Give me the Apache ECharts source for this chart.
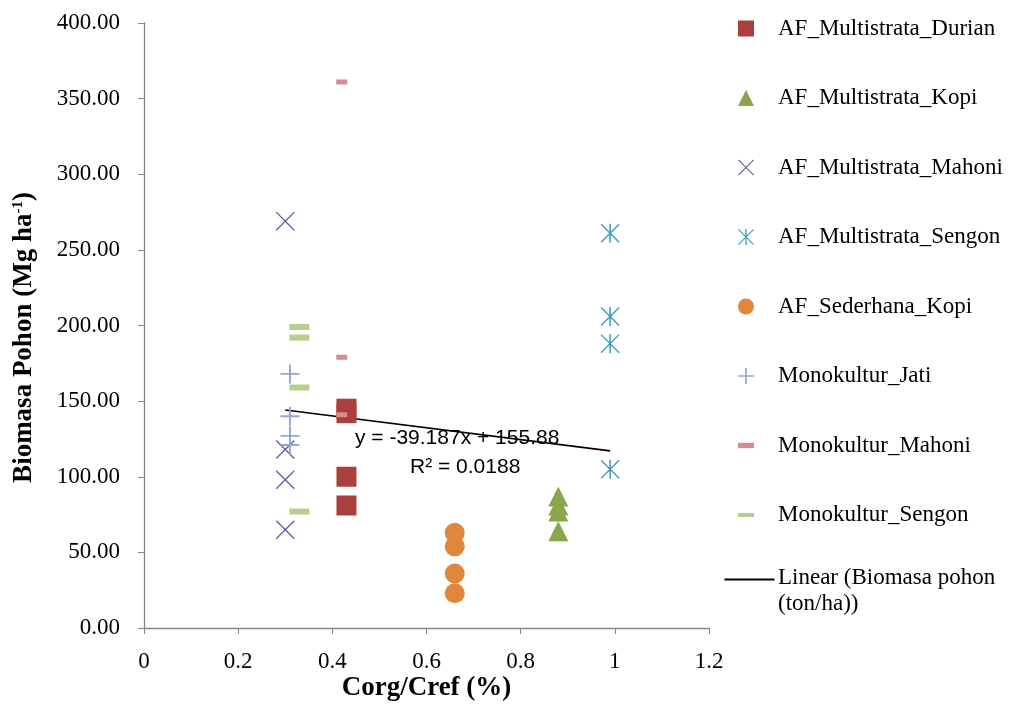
<!DOCTYPE html>
<html>
<head>
<meta charset="utf-8">
<script src="https://cdn.jsdelivr.net/npm/echarts@6/dist/echarts.min.js"></script>
<style>
  html, body { margin: 0; padding: 0; background: #fff; }
  #main { width: 1016px; height: 715px; }
</style>
</head>
<body>
<div id="main"></div>
<script>
// data
var durianX = [0.43, 0.43, 0.43, 0.43];
var durianY = [145, 142, 100, 81];
var kopiX = [0.88, 0.88, 0.88, 0.88];
var kopiY = [87, 81, 77, 64];
var mahoniX = [0.30, 0.30, 0.30, 0.30];
var mahoniY = [269, 118, 98, 65];
var sengonX = [0.99, 0.99, 0.99, 0.99];
var sengonY = [261, 206, 188, 105];
var sederhanaX = [0.66, 0.66, 0.66, 0.66];
var sederhanaY = [63, 54, 36, 23];
var jatiX = [0.31, 0.31, 0.31, 0.31];
var jatiY = [168, 140, 127, 121];
var monoMahoniX = [0.42, 0.42, 0.42];
var monoMahoniY = [361, 179, 141];
var monoSengonX = [0.33, 0.33, 0.33, 0.33];
var monoSengonY = [199, 192, 159, 77];
var trendSlope = -39.187;
var trendIntercept = 155.88;

function pairs(xs, ys) {
    var out = [];
    for (var i = 0; i < xs.length; i++) out.push([xs[i], ys[i]]);
    return out;
}

// trend line spans the data's x range
var allX = durianX.concat(kopiX, mahoniX, sengonX, sederhanaX, jatiX, monoMahoniX, monoSengonX);
var xMin = Math.min.apply(null, allX), xMax = Math.max.apply(null, allX);
var trendData = [[xMin, trendSlope * xMin + trendIntercept], [xMax, trendSlope * xMax + trendIntercept]];

var crossPath = 'path://M1,0L20,19L19,20L0,1ZM19,0L20,1L1,20L0,19Z';
var starPath = 'path://M1,0L20,19L19,20L0,1ZM19,0L20,1L1,20L0,19ZM9.2,0H10.8V20H9.2Z';
var plusPath = 'path://M9,0h2v9h9v2h-9v9h-2v-9h-9v-2h9z';
var dashPath = 'path://M0,0H16V4H0Z';

var serif = '"Liberation Serif", "Times New Roman", serif';
var sans = '"Liberation Sans", Arial, sans-serif';

var myChart = echarts.init(document.getElementById('main'));
var option = {
    animation: false,
    textStyle: { fontFamily: serif },
    grid: { left: 144, top: 23, width: 565, height: 605 },
    legend: {
        orient: 'vertical',
        left: 738,
        top: 17,
        padding: 0,
        itemWidth: 16,
        itemHeight: 16,
        itemGap: 46.5,
        selectedMode: false,
        textStyle: { fontFamily: serif, fontSize: 23, color: '#000', lineHeight: 22, padding: [0, 0, 0, 19] },
        data: [
            { name: 'AF_Multistrata_Durian', icon: 'rect' },
            { name: 'AF_Multistrata_Kopi', icon: 'triangle' },
            { name: 'AF_Multistrata_Mahoni', icon: crossPath },
            { name: 'AF_Multistrata_Sengon', icon: starPath },
            { name: 'AF_Sederhana_Kopi', icon: 'circle' },
            { name: 'Monokultur_Jati', icon: plusPath },
            { name: 'Monokultur_Mahoni', icon: 'path://M0,0H12V4H0Z' },
            { name: 'Monokultur_Sengon', icon: dashPath }
        ]
    },
    xAxis: {
        type: 'value',
        min: 0, max: 1.2, interval: 0.2,
        name: 'Corg/Cref (%)',
        nameLocation: 'middle',
        nameGap: 47,
        nameMoveOverlap: false,
        nameTextStyle: { fontFamily: serif, fontSize: 27, fontWeight: 'bold', color: '#000' },
        axisLine: { show: true, lineStyle: { color: '#868686', width: 1.3 } },
        axisTick: { show: true, length: 6, lineStyle: { color: '#868686' } },
        axisLabel: {
            fontFamily: serif, fontSize: 23, color: '#000', margin: 22,
            formatter: function (v) { return String(parseFloat(v.toFixed(1))); }
        },
        splitLine: { show: false }
    },
    yAxis: {
        type: 'value',
        min: 0, max: 400, interval: 50,
        name: 'Biomasa Pohon (Mg ha{sup|-1})',
        nameLocation: 'middle',
        nameRotate: 90,
        nameGap: 106,
        nameMoveOverlap: false,
        nameTextStyle: {
            fontFamily: serif, fontSize: 27, fontWeight: 'bold', color: '#000',
            padding: [0, 24, 0, 0],
            rich: { sup: { fontFamily: serif, fontSize: 15, fontWeight: 'bold', color: '#000', padding: [0, 0, 12, 0] } }
        },
        axisLine: { show: true, lineStyle: { color: '#868686', width: 1.3 } },
        axisTick: { show: true, length: 6, lineStyle: { color: '#868686' } },
        axisLabel: {
            fontFamily: serif, fontSize: 23, color: '#000', margin: 24,
            formatter: function (v) { return v.toFixed(2); }
        },
        splitLine: { show: false }
    },
    graphic: [
        { type: 'line', left: 722, top: 577, shape: { x1: 0, y1: 0, x2: 50, y2: 0 }, style: { stroke: '#000', lineWidth: 2 } },
        { type: 'text', left: 778, top: 565, style: { text: 'Linear (Biomasa pohon\n(ton/ha))', fontFamily: serif, fontSize: 23, lineHeight: 26, fill: '#000' } },
        { type: 'text', left: 355, top: 428, style: { text: 'y = -39.187x + 155.88', fontFamily: sans, fontSize: 21, fill: '#000' } },
        { type: 'text', left: 410, top: 457, style: { text: 'R² = 0.0188', fontFamily: sans, fontSize: 21, fill: '#000' } }
    ],
    series: [
        {
            name: 'Linear (Biomasa pohon (ton/ha))', type: 'line', data: trendData,
            showSymbol: false, lineStyle: { color: '#000', width: 1.6 }, z: 1
        },
        { name: 'AF_Multistrata_Durian', type: 'scatter', symbol: 'rect', symbolSize: 20, data: pairs(durianX, durianY), itemStyle: { color: '#A9403E', opacity: 1 } },
        { name: 'AF_Multistrata_Kopi', type: 'scatter', symbol: 'triangle', symbolSize: 20, data: pairs(kopiX, kopiY), itemStyle: { color: '#8AA54A', opacity: 1 } },
        { name: 'AF_Multistrata_Mahoni', type: 'scatter', symbol: crossPath, symbolKeepAspect: true, symbolSize: 19, data: pairs(mahoniX, mahoniY), itemStyle: { color: '#715898', opacity: 1 } },
        { name: 'AF_Multistrata_Sengon', type: 'scatter', symbol: starPath, symbolKeepAspect: true, symbolSize: 19, data: pairs(sengonX, sengonY), itemStyle: { color: '#3F9CB4', opacity: 1 } },
        { name: 'AF_Sederhana_Kopi', type: 'scatter', symbol: 'circle', symbolSize: 20, data: pairs(sederhanaX, sederhanaY), itemStyle: { color: '#E0873C', opacity: 1 } },
        { name: 'Monokultur_Jati', type: 'scatter', symbol: plusPath, symbolKeepAspect: true, symbolSize: 19, data: pairs(jatiX, jatiY), itemStyle: { color: '#8FA8D5', opacity: 1 } },
        { name: 'Monokultur_Mahoni', type: 'scatter', symbol: 'rect', symbolSize: [11, 5], data: pairs(monoMahoniX, monoMahoniY), itemStyle: { color: '#D68C8D', opacity: 1 } },
        { name: 'Monokultur_Sengon', type: 'scatter', symbol: 'rect', symbolSize: [20, 6], data: pairs(monoSengonX, monoSengonY), itemStyle: { color: '#B6CF8D', opacity: 1 } }
    ]
};
myChart.setOption(option);
</script>
</body>
</html>
